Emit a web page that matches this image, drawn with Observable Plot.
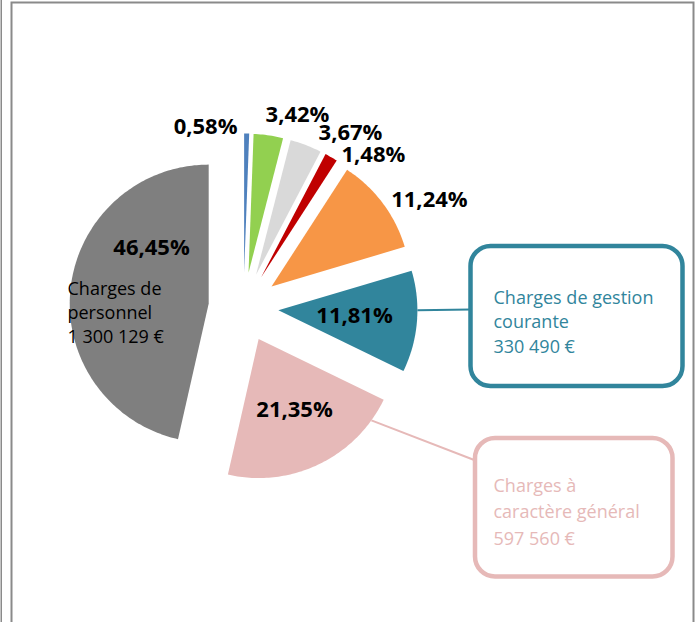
<!DOCTYPE html>
<html>
<head>
<meta charset="utf-8">
<script src="https://cdn.jsdelivr.net/npm/d3@7"></script>
<script src="https://cdn.jsdelivr.net/npm/@observablehq/plot@0.6"></script>
<style>
  html, body { margin: 0; padding: 0; background: #fff; }
</style>
</head>
<body>
<div id="chart"></div>
<script>
// ---------- data ----------
const categories = [
  "Poste 1", "Poste 2", "Poste 3", "Poste 4", "Poste 5",
  "Charges de gestion courante", "Charges à caractère général", "Charges de personnel"
];
const shares  = [0.58, 3.42, 3.67, 1.48, 11.24, 11.81, 21.35, 46.45];
const amounts = [null, null, null, null, null, 330490, 597560, 1300129];
const colors  = ["#4F81BD", "#92D050", "#D9D9D9", "#C00000", "#F79646", "#31859C", "#E6B9B8", "#7F7F7F"];

// ---------- layout ----------
const W = 698, H = 622;
const cx = 243, cy = 307, R = 139, explode = 35;
const deg = Math.PI / 180;
// percentage label placement: [angle (deg, clockwise from top), radius factor]
const labelPolar = [[347.7, 1.281], [16.2, 1.393], [32.5, 1.433], [41.7, 1.405],
                    [61.7, 1.519], [97.7, 0.806], [154.9, 0.866], [299.5, 0.760]];
const wrapChars = {5: 18, 6: 17, 7: 10};
const insideName = {i: 7, x: 67, y: 342, lineHeight: 1.31};
const callouts = [
  {i: 5, arcAngle: 90,    box: [470.5, 246, 682.5, 386], end: [470.5, 309], text: [493, 352], lineHeight: 1.36},
  {i: 6, arcAngle: 125.8, box: [475, 438, 672.5, 576.5], end: [475, 460],   text: [493, 544], lineHeight: 1.47}
];

// ---------- helpers ----------
const fr = d3.formatLocale({decimal: ",", thousands: " ", grouping: [3], currency: ["", " €"]});
const money = fr.format("$,.0f");
const pct = v => v.toFixed(2).replace(".", ",") + "%";
function wrap(str, max) {
  const words = str.split(" "), lines = [];
  let cur = "";
  for (const w of words) {
    if (cur && (cur + " " + w).length > max) { lines.push(cur); cur = w; }
    else cur = cur ? cur + " " + w : w;
  }
  if (cur) lines.push(cur);
  return lines.join("\n");
}
const nameText = i => wrap(categories[i], wrapChars[i]) + "\n" + money(amounts[i]);

// ---------- geometry from the values ----------
const arcs = d3.pie().sort(null).value(d => d)(shares);
const slices = arcs.map((a, i) => {
  const mid = (a.startAngle + a.endAngle) / 2;
  return {i, a0: a.startAngle, a1: a.endAngle, mid,
          ax: cx + explode * Math.sin(mid), ay: cy - explode * Math.cos(mid)};
});
const polyPts = slices.flatMap(s => {
  const n = Math.max(2, Math.ceil((s.a1 - s.a0) / deg));
  const pts = [{cat: categories[s.i], x: s.ax, y: s.ay}];
  for (let k = 0; k <= n; k++) {
    const a = s.a0 + (s.a1 - s.a0) * k / n;
    pts.push({cat: categories[s.i], x: s.ax + R * Math.sin(a), y: s.ay - R * Math.cos(a)});
  }
  return pts;
});
const pctLabels = shares.map((v, i) => {
  const [ang, k] = labelPolar[i];
  return {text: pct(v), x: cx + k * R * Math.sin(ang * deg), y: cy - k * R * Math.cos(ang * deg)};
});
const links = callouts.map(c => {
  const s = slices[c.i];
  return {cat: categories[c.i],
          x1: s.ax + R * Math.sin(c.arcAngle * deg), y1: s.ay - R * Math.cos(c.arcAngle * deg),
          x2: c.end[0], y2: c.end[1]};
});

const calloutTexts = callouts.map(c => Plot.text([c], {
  x: d => d.text[0], y: d => d.text[1], text: d => nameText(d.i),
  fill: d => categories[d.i], textAnchor: "start", lineAnchor: "bottom",
  lineHeight: c.lineHeight, fontSize: 18
}));

const chart = Plot.plot({
  width: W, height: H,
  marginLeft: 11, marginRight: 5, marginTop: 2, marginBottom: -10,
  x: {domain: [0, W], range: [0, W], axis: null},
  y: {domain: [0, H], range: [0, H], axis: null},
  color: {domain: categories, range: colors},
  style: {fontFamily: "'Open Sans', sans-serif", background: "white"},
  marks: [
    Plot.frame({stroke: "#8a8a8a", strokeWidth: 2}),
    Plot.ruleX([0.75], {y1: 0, y2: H, stroke: "#8a8a8a", strokeWidth: 1.5}),
    Plot.line(polyPts, {x: "x", y: "y", z: "cat", fill: "cat", stroke: "none", curve: "linear-closed"}),
    Plot.link(links, {x1: "x1", y1: "y1", x2: "x2", y2: "y2", stroke: "cat", strokeWidth: 2}),
    Plot.rect(callouts, {
      x1: d => d.box[0], y1: d => d.box[1], x2: d => d.box[2], y2: d => d.box[3],
      fill: "white", stroke: d => categories[d.i], strokeWidth: 4.5, rx: 20
    }),
    ...calloutTexts,
    Plot.text([insideName], {
      x: "x", y: "y", text: d => nameText(d.i), fill: "black",
      textAnchor: "start", lineAnchor: "bottom", lineHeight: insideName.lineHeight, fontSize: 18
    }),
    Plot.text(pctLabels, {
      x: "x", y: "y", text: "text", fill: "black", fontWeight: "bold",
      fontSize: 22, textAnchor: "middle", lineAnchor: "bottom"
    })
  ]
});
document.getElementById("chart").appendChild(chart);
</script>
</body>
</html>
